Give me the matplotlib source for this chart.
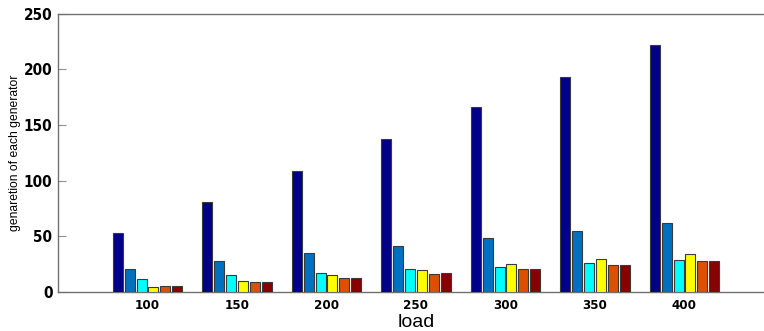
import numpy as np
import matplotlib
matplotlib.use('Agg')
import matplotlib.pyplot as plt
from matplotlib import font_manager

loads = [100, 150, 200, 250, 300, 350, 400]
gen1 = [52.6, 80.6, 109, 137, 165.8, 193.3, 222]
gen2 = [20.6, 27.8, 34.7, 41, 48.1, 55, 61.5]
gen3 = [11.6, 15, 17.3, 20.3, 22.7, 25.7, 28.7]
gen4 = [4.8, 9.9, 15, 19.4, 24.8, 29.3, 34]
gen5 = [5.4, 9, 12.8, 16.1, 20.6, 23.9, 27.8]
gen6 = [5.4, 9, 12.8, 16.7, 20.6, 24, 27.8]
series = [gen1, gen2, gen3, gen4, gen5, gen6]
colors = ['#000088', '#0070C0', '#00FFFF', '#FFFF00', '#DD5000', '#880000']

# condensed bold for tick numbers (close to the narrow heavy look of the original)
cond_y = font_manager.FontProperties(family='DejaVu Sans', stretch='condensed', weight='bold', size=11)
cond_x = font_manager.FontProperties(family='DejaVu Sans', stretch='condensed', weight='bold', size=9.5)

fig = plt.figure(figsize=(7.64, 3.31), dpi=100)
ax = fig.add_axes([58/764, 39/331, (774-58)/764, (292-13.5)/331])

pitch = 6.66
width = 5.6
x = np.array(loads, dtype=float)
for i, (vals, c) in enumerate(zip(series, colors)):
    ax.bar(x + (i - 2.5) * pitch, vals, width=width, color=c,
           edgecolor='#3a3a3a', linewidth=0.8, zorder=3)

ax.set_xlim(50, 450)
ax.set_ylim(0, 250)
ax.set_xticks(loads)
ax.set_yticks(range(0, 251, 50))

ax.spines['right'].set_visible(False)
for s in ['left', 'top', 'bottom']:
    ax.spines[s].set_color('#707070')
    ax.spines[s].set_linewidth(1.0)

ax.tick_params(axis='y', direction='in', length=6, color='#909090', pad=4)
ax.tick_params(axis='x', direction='in', length=0, pad=5)
for lab in ax.get_yticklabels():
    lab.set_fontproperties(cond_y)
for lab in ax.get_xticklabels():
    lab.set_fontproperties(cond_x)

ax.set_xlabel('load', fontsize=14, family=['Liberation Sans', 'DejaVu Sans'])
ax.xaxis.set_label_coords(0.5, -0.078)
ax.set_ylabel('genaretion of each generator', fontsize=8.7, family=['Liberation Sans', 'DejaVu Sans'])
ax.yaxis.set_label_coords(-0.052, 0.5)

fig.savefig('out.png', dpi=100)
